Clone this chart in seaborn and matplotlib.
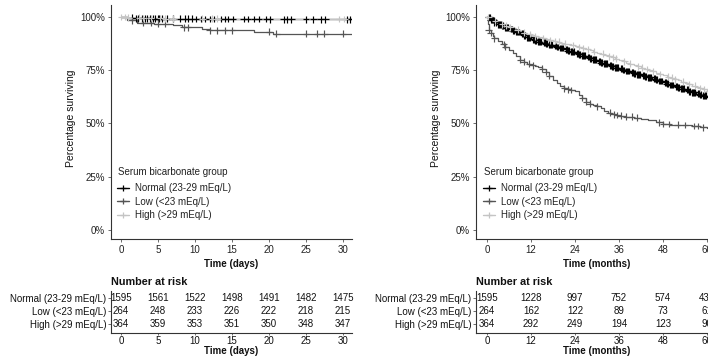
import numpy as np
import pandas as pd
import matplotlib
matplotlib.use("Agg")
import matplotlib.pyplot as plt
import seaborn as sns
from matplotlib.lines import Line2D

# ---------------- data ----------------
groups = ["Normal (23-29 mEq/L)", "Low (<23 mEq/L)", "High (>29 mEq/L)"]
colors = ["#000000", "#555555", "#c4c4c4"]

# Left panel: time in days
day_normal_t = [0, 1, 2, 4, 6, 10, 20]
day_normal_s = [100, 99.7, 99.4, 99.2, 99.1, 99.0, 98.9]
day_low_t = [0, 0.8, 2.2, 4.5, 7, 8.2, 10.9, 12, 18, 20.5]
day_low_s = [100, 98.5, 97.3, 96.9, 96.1, 95.2, 94.3, 93.8, 93.0, 92.1]
day_high_t = [0, 1, 3, 6, 15]
day_high_s = [100, 99.7, 99.5, 99.2, 99.0]
day_end = 31.3

day_normal_c = [1.5, 2, 2.3, 2.8, 3.2, 3.5, 3.9, 4.3, 4.6, 5, 5.2, 5.5, 6.2, 7, 8, 8.6, 9.1,
                9.6, 10.2, 10.8, 11.3, 12, 12.6, 13.5, 14, 14.5, 15.1, 16.6, 17.1, 18, 18.6,
                19.6, 20.1, 22, 22.5, 23, 25, 26, 27, 27.6, 30.6, 31]
day_low_c = [1.5, 3, 4, 5, 6, 8.5, 9, 12, 13, 14, 15, 20, 21, 25, 26.5, 27.5, 30]
day_high_c = [0, 0.5, 1, 2.5, 3, 4, 5.3, 6, 7, 11, 12.3, 13, 29.5, 30.2]

day_ticks = [0, 5, 10, 15, 20, 25, 30]
day_risk_normal = [1595, 1561, 1522, 1498, 1491, 1482, 1475]
day_risk_low = [264, 248, 233, 226, 222, 218, 215]
day_risk_high = [364, 359, 353, 351, 350, 348, 347]

# Right panel: time in months
mon_normal_t = list(range(0, 61))
mon_normal_s = [100, 98.6, 97.4, 96.5, 95.8, 95.0, 94.3, 93.6, 92.9, 92.1,
                91.3, 90.4, 89.6, 89.0, 88.4, 87.9, 87.4, 86.9, 86.4, 85.9,
                85.4, 84.8, 84.2, 83.6, 83.0, 82.4, 81.8, 81.2, 80.6, 79.9,
                79.2, 78.6, 78.0, 77.4, 76.8, 76.2, 75.7, 75.1, 74.6, 74.1,
                73.6, 73.1, 72.6, 72.1, 71.6, 71.1, 70.5, 69.9, 69.3, 68.7,
                68.1, 67.5, 66.9, 66.4, 65.8, 65.2, 64.6, 64.0, 63.5, 63.0, 62.6]
mon_low_t = [0, 0.2, 0.5, 1, 1.5, 2, 3, 4, 5, 6, 7, 8, 9, 10, 11, 12, 13, 14, 15, 16,
             17, 18, 19, 20, 21, 22, 23, 24, 25, 26, 27, 28, 29, 30, 31, 32, 33, 34, 35, 36,
             38, 40, 42, 44, 46, 48, 50, 52, 54, 56, 58, 60]
mon_low_s = [100, 96.5, 94.0, 92.5, 91.0, 90.0, 88.5, 87.2, 86.0, 84.5, 83.0, 81.5, 80.0,
             79.0, 78.0, 77.3, 77.0, 76.6, 75.8, 74.2, 72.3, 70.5, 69.0, 67.4, 66.5, 66.0,
             65.7, 65.2, 63.6, 62.0, 60.2, 59.2, 58.8, 58.0, 57.2, 56.0, 55.0, 54.4, 54.0,
             53.7, 53.2, 52.8, 52.2, 51.6, 50.6, 49.8, 49.5, 49.5, 49.3, 48.8, 48.3, 48.0]
mon_high_t = list(range(0, 61))
mon_high_s = [100, 99.0, 98.1, 97.3, 96.6, 95.9, 95.2, 94.6, 94.0, 93.3,
              92.6, 92.0, 91.4, 90.9, 90.4, 89.9, 89.5, 89.1, 88.7, 88.3,
              87.9, 87.5, 87.1, 86.7, 86.3, 85.9, 85.4, 84.9, 84.3, 83.7,
              83.2, 82.7, 82.2, 81.6, 81.0, 80.4, 79.8, 79.2, 78.6, 78.0,
              77.4, 76.8, 76.2, 75.6, 75.0, 74.4, 73.8, 73.2, 72.6, 72.0,
              71.4, 70.8, 70.2, 69.6, 69.0, 68.4, 67.8, 67.2, 66.6, 66.0, 65.4]
mon_end = 62.5

mon_normal_c = [0.5, 0.8, 1, 1.3, 1.5, 1.8, 2, 2.4, 3, 3.3, 3.5, 3.8, 4, 4.3, 5, 5.3, 5.5,
                5.8, 6.5, 6.8, 7, 7.3, 8, 8.3, 8.5, 8.8, 9.5, 9.8, 10, 10.3, 11, 11.3, 11.5,
                11.8, 12.5, 12.8, 13, 13.3, 14, 14.3, 14.5, 14.8, 15.5, 15.8, 16, 16.3, 17,
                17.3, 17.5, 17.8, 18.5, 18.8, 19, 19.3, 20, 20.3, 20.5, 20.8, 21.5, 21.8, 22,
                22.3, 23, 23.3, 23.5, 23.8, 24.5, 24.8, 25, 25.3, 26, 26.3, 26.5, 26.8, 27.5,
                27.8, 28, 28.3, 29, 29.3, 29.5, 29.8, 30.5, 30.8, 31, 31.3, 32, 32.3, 32.5,
                32.8, 33.5, 33.8, 34, 34.3, 35, 35.3, 35.5, 35.8, 36.5, 36.8, 37, 37.3, 38,
                38.3, 38.5, 38.8, 39.5, 39.8, 40, 40.3, 41, 41.3, 41.5, 41.8, 42.5, 42.8, 43,
                43.3, 44, 44.3, 44.5, 44.8, 45.5, 45.8, 46, 46.3, 47, 47.3, 47.5, 47.8, 48.5,
                48.8, 49, 49.3, 50, 50.3, 50.5, 50.8, 51.5, 51.8, 52, 52.3, 53, 53.3, 53.5,
                53.8, 54.5, 54.8, 55, 55.3, 56, 56.3, 56.5, 56.8, 57.5, 57.8, 58, 58.3, 59,
                59.3, 59.5, 59.8, 60.5, 61]
mon_low_c = [0.5, 1, 2, 4.5, 5, 9, 10, 11.5, 12.5, 15, 16, 17, 21, 22, 23, 26, 27, 28, 30,
             33.5, 34.5, 35.5, 36.5, 38, 39.5, 41, 47, 48, 49.5, 52, 54, 56.5, 57.5, 59]
mon_high_c = [0.3, 2.2, 4.1, 5.2, 6.3, 8.4, 10.1, 11.7, 13.2, 15.4, 17.3, 18.5, 19.6, 21.2,
              23.4, 25.1, 26.2, 27.5, 29.2, 31.6, 33.3, 34.4, 35.2, 37.4, 39.1, 41.3, 42.2,
              43.5, 45.2, 47.1, 49.4, 50.5, 51.3, 53.5, 55.2, 56.6, 58.1, 59.2, 60.3]

mon_ticks = [0, 12, 24, 36, 48, 60]
mon_risk_normal = [1595, 1228, 997, 752, 574, 434]
mon_risk_low = [264, 162, 122, 89, 73, 61]
mon_risk_high = [364, 292, 249, 194, 123, 90]

# ---------------- style ----------------
sns.set_style("ticks")
plt.rcParams["font.family"] = ["Liberation Sans", "DejaVu Sans"]
plt.rcParams["axes.edgecolor"] = "#333333"
plt.rcParams["axes.linewidth"] = 0.8
FS = 7

W, H = 708, 362
fig = plt.figure(figsize=(W / 100, H / 100), dpi=100)


def box(l, t, r, b):
    return [l / W, 1 - b / H, (r - l) / W, (b - t) / H]


def step_df(tlist, slist, end):
    rows = []
    for g, ts, ss in zip(groups, tlist, slist):
        for t, s in zip(ts, ss):
            rows.append((g, t, s))
        rows.append((g, end, ss[-1]))
    return pd.DataFrame(rows, columns=["group", "time", "surv"])


def censor_df(tlist, slist, clist):
    rows = []
    for g, ts, ss, cs in zip(groups, tlist, slist, clist):
        ts = np.asarray(ts, float)
        for c in cs:
            idx = np.searchsorted(ts, c, side="right") - 1
            rows.append((g, c, ss[idx]))
    return pd.DataFrame(rows, columns=["group", "time", "surv"])


def draw_panel(axbox, tbox, tl, sl, cl, end, xlim, ticks, risks, xlabel, legx):
    ax = fig.add_axes(box(*axbox))
    df = step_df(tl, sl, end)
    cdf = censor_df(tl, sl, cl)
    sns.lineplot(data=df, x="time", y="surv", hue="group", hue_order=groups,
                 palette=colors, drawstyle="steps-post", estimator=None,
                 legend=False, ax=ax, lw=0.9)
    sns.scatterplot(data=cdf, x="time", y="surv", hue="group", hue_order=groups,
                    palette=colors, marker="+", s=24, linewidth=0.85,
                    legend=False, ax=ax, zorder=3)
    ax.set_xlim(*xlim)
    ax.set_ylim(-4.2, 105.6)
    ax.set_xticks(ticks)
    ax.set_yticks([0, 25, 50, 75, 100])
    ax.set_yticklabels(["0%", "25%", "50%", "75%", "100%"])
    sns.despine(ax=ax)
    ax.tick_params(labelsize=FS, length=2, width=0.6, color="#555555",
                   labelcolor="#222222", pad=2.5)
    ax.set_xlabel(xlabel, fontsize=FS, fontweight="bold", color="#111111")
    ax.set_ylabel("Percentage surviving", fontsize=7.5, color="#111111")
    aw = axbox[2] - axbox[0]
    ah = axbox[3] - axbox[1]
    ax.xaxis.label.set_va("center")
    ax.xaxis.set_label_coords(0.5, (axbox[3] - 264) / ah)
    ax.yaxis.label.set_va("center")
    ax.yaxis.set_label_coords(-40 / aw, (axbox[3] - 118) / ah)

    handles = [Line2D([0], [0], color=c, lw=1.0, marker="+", markersize=5,
                      markeredgewidth=0.9) for c in colors]
    leg = ax.legend(handles, groups, loc="upper left", frameon=False, fontsize=FS,
                    handlelength=1.25, handletextpad=0.6,
                    labelspacing=0.33, borderpad=0, borderaxespad=0,
                    bbox_to_anchor=(legx / W, 1 - 183.5 / H),
                    bbox_transform=fig.transFigure)
    for t in leg.get_texts():
        t.set_color("#222222")
    fig.text((legx + 0.5) / W, 1 - 172 / H, "Serum bicarbonate group",
             fontsize=FS, color="#222222", ha="left", va="center")

    # risk table
    tx = fig.add_axes(box(*tbox))
    tx.set_xlim(*xlim)
    tx.set_ylim(0.31, 3.54)
    rows_y = [3, 2, 1]
    for ry, vals in zip(rows_y, risks):
        for t, v in zip(ticks, vals):
            tx.text(t, ry, str(v), ha="center", va="center", fontsize=FS,
                    color="#111111")
    tx.set_yticks(rows_y)
    tx.set_yticklabels(groups)
    tx.set_xticks(ticks)
    sns.despine(ax=tx)
    tx.tick_params(labelsize=FS, length=1.5, width=0.6, color="#555555",
                   labelcolor="#111111", pad=0.8)
    tx.tick_params(axis="y", pad=1.5, length=2)
    tx.set_xlabel(xlabel, fontsize=FS, fontweight="bold", color="#111111")
    tx.xaxis.label.set_va("center")
    th = tbox[3] - tbox[1]
    tx.xaxis.set_label_coords(0.5, (tbox[3] - 351) / th)
    fig.text(tbox[0] / W, 1 - 282 / H, "Number at risk", fontsize=7.8,
             fontweight="bold", ha="left", va="center", color="#111111")
    return ax, tx


draw_panel((111, 5, 352, 239), (111, 291, 352, 333),
           [day_normal_t, day_low_t, day_high_t],
           [day_normal_s, day_low_s, day_high_s],
           [day_normal_c, day_low_c, day_high_c],
           day_end, (-1.35, 31.22), day_ticks,
           [day_risk_normal, day_risk_low, day_risk_high],
           "Time (days)", 117)

draw_panel((476, 5, 718, 239), (476, 291, 718, 333),
           [mon_normal_t, mon_low_t, mon_high_t],
           [mon_normal_s, mon_low_s, mon_high_s],
           [mon_normal_c, mon_low_c, mon_high_c],
           mon_end, (-3.0, 63.0), mon_ticks,
           [mon_risk_normal, mon_risk_low, mon_risk_high],
           "Time (months)", 483)

fig.savefig("out.png", dpi=100)
